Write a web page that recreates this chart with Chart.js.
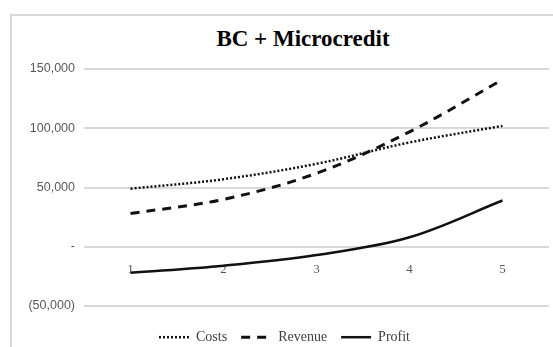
<!DOCTYPE html>
<html>
<head>
<meta charset="utf-8">
<script src="https://cdn.jsdelivr.net/npm/chart.js@4"></script>
<style>
  html, body { margin: 0; padding: 0; background: #fff; overflow: hidden; }
  #wrap { position: relative; width: 553px; height: 347px; }
  #frame {
    position: absolute; left: 10px; top: 14px; width: 620px; height: 420px;
    border: 2px solid #d9d9d9; box-sizing: border-box;
  }
  #title {
    position: absolute; left: 203px; width: 200px; top: 26px; text-align: center;
    font: bold 23px "Liberation Serif", serif; color: #000;
  }
  canvas { position: absolute; left: 0; top: 0; }
</style>
</head>
<body>
<div id="wrap">
  <div id="frame"></div>
  <div id="title">BC + Microcredit</div>
  <canvas id="chart" width="553" height="347"></canvas>
</div>
<script>
// ---------------- Data ----------------
const years = ["1", "2", "3", "4", "5"];
const costs = [49000, 57000, 70000, 88000, 102000];
const revenue = [28000, 40000, 62000, 97000, 141000];
const profit = [-22000, -16000, -7000, 8000, 39000];

const yMin = -50000;
const yMax = 150000;
const yStep = 50000;

// ---------------- Helpers ----------------
function formatTick(v) {
  if (v === 0) return "-";
  const s = Math.abs(v).toLocaleString("en-US");
  return v < 0 ? `(${s})` : s;
}

// ---------------- Chart ----------------
const ctx = document.getElementById("chart");

new Chart(ctx, {
  type: "line",
  data: {
    labels: years,
    datasets: [
      {
        label: "Costs",
        data: costs,
        borderColor: "#111",
        borderWidth: 2.5,
        borderDash: [2, 2],
        pointRadius: 0,
        tension: 0.35,
        fill: false,
      },
      {
        label: "Revenue",
        data: revenue,
        borderColor: "#111",
        borderWidth: 3,
        borderDash: [9, 7],
        pointRadius: 0,
        tension: 0.35,
        fill: false,
      },
      {
        label: "Profit",
        data: profit,
        borderColor: "#111",
        borderWidth: 2.5,
        pointRadius: 0,
        tension: 0.35,
        fill: false,
      },
    ],
  },
  options: {
    responsive: false,
    animation: false,
    layout: { padding: { left: 20, right: 4, top: 69, bottom: 0 } },
    plugins: {
      title: { display: false },
      tooltip: { enabled: false },
      legend: {
        position: "bottom",
        maxHeight: 41,
        // empty title only pushes the row down
        title: { display: true, text: " ", font: { size: 1 }, padding: { top: 9, bottom: 0 } },
        labels: {
          usePointStyle: true,
          pointStyle: "line",
          pointStyleWidth: 30,
          padding: 14,
          color: "#404040",
          font: { family: "Liberation Serif", size: 14 },
          generateLabels: chart => {
            const items = Chart.defaults.plugins.legend.labels.generateLabels(chart);
            return items.map(item => {
              const ds = chart.data.datasets[item.datasetIndex];
              item.lineDash = ds.borderDash || [];
              item.lineWidth = ds.borderWidth;
              item.strokeStyle = ds.borderColor;
              return item;
            });
          },
        },
      },
    },
    scales: {
      x: {
        position: { y: 0 },
        offset: true,
        grid: { display: false, drawTicks: false },
        border: { display: false },
        ticks: {
          color: "#595959",
          padding: 15,
          font: { family: "Liberation Serif", size: 13 },
        },
      },
      y: {
        min: yMin,
        max: yMax,
        afterFit: scale => { scale.width = 64; },
        grid: { color: "#d9d9d9", lineWidth: 2, drawTicks: false },
        border: { display: false },
        ticks: {
          stepSize: yStep,
          padding: 9,
          color: "#595959",
          font: { family: "Liberation Sans", size: 12.5 },
          callback: v => formatTick(v),
        },
      },
    },
  },
});
</script>
</body>
</html>
